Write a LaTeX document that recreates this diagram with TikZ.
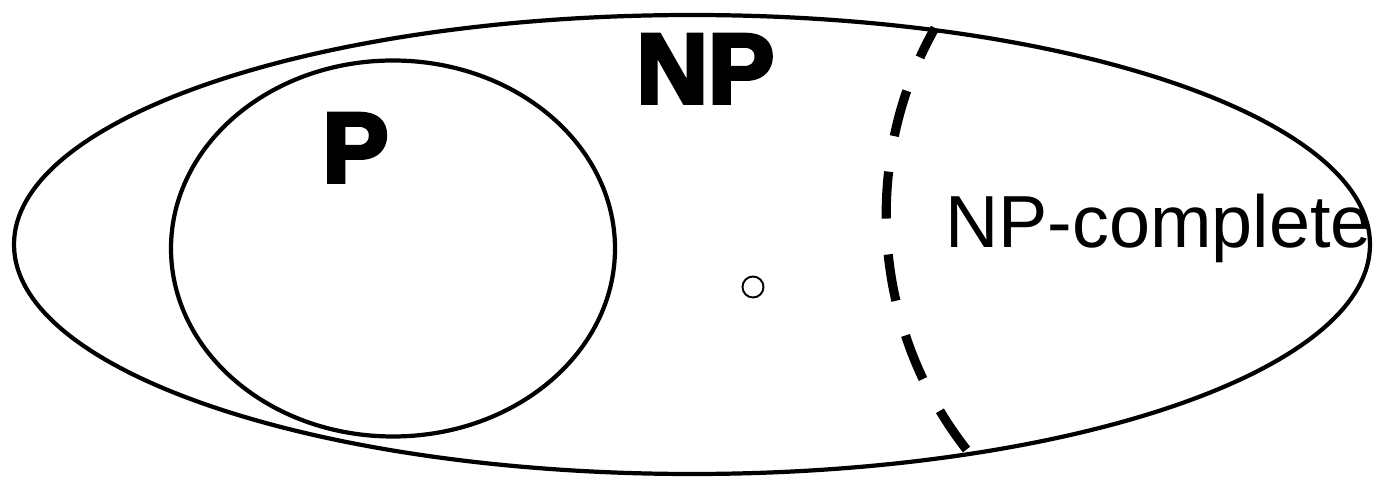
\documentclass[tikz,border=0pt]{standalone}
\usepackage{fontspec}
\setmainfont{Liberation Sans}
\newfontfamily\heavyfont[FakeBold=4]{Liberation Sans Bold}
\usetikzlibrary{positioning}
\definecolor{setline}{RGB}{0,0,0}
\tikzset{
  setedge/.style={draw=setline, line width=2.4pt},
  npcline/.style={draw=setline, line width=5.2pt, line cap=butt,
                  dash pattern=on 0.94cm off 0.72cm, dash phase=0.28cm},
  probdot/.style={draw=setline, line width=1.1pt},
  classlab/.style={font=\heavyfont\fontsize{56.5}{60}\selectfont, inner sep=0pt, anchor=base west},
  npclab/.style={font=\fontsize{42}{48}\selectfont, inner sep=0pt, anchor=base west},
}

\begin{document}
\begin{tikzpicture}[x=0.02cm, y=-0.02cm]
  \useasboundingbox (0,0) rectangle (1374,479);
  % the two classes
  \draw[setedge] (692,244.5) ellipse [x radius=678, y radius=229.5];
  \draw[setedge] (393,248.5) ellipse [x radius=222, y radius=188];
  % boundary of the complete problems
  \coordinate (cuttop) at (935,28);
  \coordinate (cutbot) at (975,460);
  \draw[npcline] (cuttop) .. controls (860,160) and (870,335) .. (cutbot);
  \draw[probdot] (753,287) circle [radius=10.5];
  % labels
  \node[classlab] (nplab) at (636,103) {NP};
  \node[classlab] (plab) at (322,182) {P};
  \node[npclab] (npclab) at (945,248) {NP-complete};
\end{tikzpicture}
\end{document}
